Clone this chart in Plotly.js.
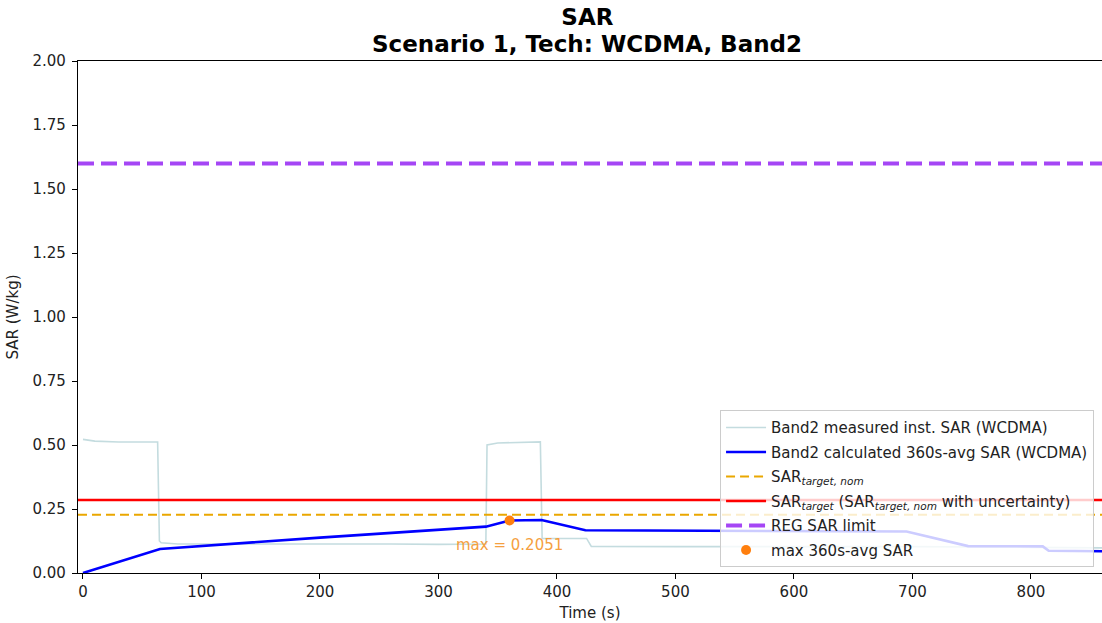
<!DOCTYPE html>
<html><head><meta charset="utf-8">
<script src="https://cdn.plot.ly/plotly-3.0.1.min.js"></script>
<style>html,body{margin:0;padding:0;background:#fff}</style>
</head><body><div id="chart" style="width:1102px;height:623px"></div>
<script>
const measTime = [0, 10, 30, 63, 64.5, 66, 80, 150, 200, 260, 300, 340, 341, 350, 386, 387.5, 425, 429, 500, 600, 700, 800, 862];
const measSAR  = [0.522, 0.515, 0.512, 0.512, 0.125, 0.118, 0.113, 0.114, 0.115, 0.113, 0.112, 0.113, 0.500, 0.508, 0.512, 0.135, 0.135, 0.104, 0.103, 0.103, 0.103, 0.100, 0.098];
const avgTime = [0, 65, 200, 340, 360, 387, 424, 500, 695, 747, 810, 815, 862];
const avgSAR  = [0, 0.094, 0.138, 0.181, 0.2051, 0.207, 0.167, 0.165, 0.162, 0.105, 0.104, 0.087, 0.085];
const xSpan = [-4.2, 862];
const targetNom = 0.228;
const targetUnc = 0.285;
const regLimit = 1.6;
const maxPoint = {t: 360, v: 0.2051};
const xTicks = [0, 100, 200, 300, 400, 500, 600, 700, 800];
const yTicks = [0, 0.25, 0.5, 0.75, 1.0, 1.25, 1.5, 1.75, 2.0];
const titleMain = 'SAR';
const titleSub = 'Scenario 1, Tech: WCDMA, Band2';

const traces = [
  {x: measTime, y: measSAR, mode: 'lines', name: 'Band2 measured inst. SAR (WCDMA)', legendgroup: 'a',
   line: {color: '#c4dcdf', width: 1.6}},
  {x: avgTime, y: avgSAR, mode: 'lines', name: 'Band2 calculated 360s-avg SAR (WCDMA)', legendgroup: 'b',
   line: {color: '#0000ff', width: 2.6}},
  {x: xSpan, y: [targetNom, targetNom], mode: 'lines', name: 'SAR<sub><i>target, nom</i></sub>', legendgroup: 'c',
   line: {color: '#eaa700', width: 2, dash: '9px,5px'}},
  {x: xSpan, y: [targetUnc, targetUnc], mode: 'lines', name: 'SAR<sub><i>target</i></sub> (SAR<sub><i>target, nom</i></sub> with uncertainty)', legendgroup: 'd',
   line: {color: '#ff0000', width: 2.6}},
  {x: xSpan, y: [regLimit, regLimit], mode: 'lines', name: 'REG SAR limit', legendgroup: 'e',
   line: {color: '#a546f5', width: 4, dash: '16px,7px'}},
  {x: [maxPoint.t], y: [maxPoint.v], mode: 'markers', name: 'max 360s-avg SAR', legendgroup: 'f',
   marker: {color: '#ff7f0e', size: 10, symbol: 'circle'}}
];

const layout = {
  width: 1102, height: 623,
  margin: {l: 78, r: 0, t: 61, b: 50},
  paper_bgcolor: '#fff', plot_bgcolor: '#fff',
  font: {family: 'DejaVu Sans', size: 15, color: '#222'},
  title: {text: '<b>' + titleMain + '</b>', x: 0.533, xanchor: 'center', y: 1 - 17 / 623, yanchor: 'middle',
          font: {family: 'DejaVu Sans', size: 23, color: '#000'}},
  xaxis: {range: [-4.2, 860], tickvals: xTicks, ticktext: xTicks.map(String), showgrid: false, zeroline: false,
          showline: true, linecolor: '#000', linewidth: 1.2, mirror: true, ticks: 'outside', ticklen: 5, tickcolor: '#000',
          tickfont: {size: 15}, title: {text: 'Time (s)', standoff: 7, font: {size: 15}}},
  yaxis: {range: [0, 2], tickvals: yTicks, tickformat: '.2f', showgrid: false, zeroline: false,
          showline: true, linecolor: '#000', linewidth: 1.2, ticks: 'outside', ticklen: 5, tickcolor: '#000',
          ticklabelstandoff: 3,
          tickfont: {size: 15}, title: {text: 'SAR (W/kg)', standoff: 10, font: {size: 15}}},
  legend: {x: 0.627, xanchor: 'left', y: 0.318, yanchor: 'top', bgcolor: 'rgba(255,255,255,0.8)',
           bordercolor: '#cccccc', borderwidth: 1, font: {size: 15, color: '#222'}, tracegroupgap: 2,
           itemwidth: 40},
  showlegend: true,
  annotations: [
    {x: (587 - 78) / 1024, y: 1 + (573 - 44 - 512) / 512, xref: 'paper', yref: 'paper', text: '<b>' + titleSub + '</b>',
     showarrow: false, xanchor: 'center', yanchor: 'middle', font: {family: 'DejaVu Sans', size: 23, color: '#000'}},
    {x: maxPoint.t, y: 0.11, xref: 'x', yref: 'y', text: 'max = ' + maxPoint.v.toFixed(4),
     showarrow: false, font: {color: '#f5a040', size: 15}}]
};
Plotly.newPlot('chart', traces, layout, {displayModeBar: false});
</script></body></html>
